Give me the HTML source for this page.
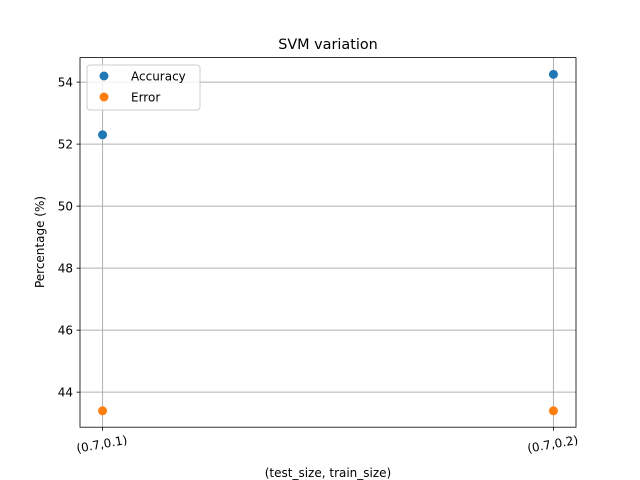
<!DOCTYPE html>
<html><head><meta charset="utf-8"><style>
body{margin:0;background:#fff}
svg{display:block;font-family:"DejaVu Sans","Liberation Sans",sans-serif}
</style></head><body>
<svg id="chart" width="640" height="480">
<rect width="640" height="480" fill="#fff"/>
<g id="grid"></g><g id="marks"></g><g id="axes"></g>
<text x="328" y="49" text-anchor="middle" font-size="14.4">SVM variation</text>
<text x="328" y="477" text-anchor="middle" font-size="12">(test_size, train_size)</text>
<text transform="translate(44,242) rotate(-90)" text-anchor="middle" font-size="12">Percentage (%)</text>
<g>
<rect x="87" y="65" width="113" height="45" rx="3" fill="#fff" fill-opacity="0.8" stroke="#ccc"/>
<circle cx="104" cy="76" r="4.5" fill="#1f77b4"/>
<text x="131" y="80.5" font-size="12">Accuracy</text>
<circle cx="104" cy="97" r="4.5" fill="#ff7f0e"/>
<text x="131" y="101.5" font-size="12">Error</text>
</g>
</svg>
<script>
const categories=["(0.7,0.1)","(0.7,0.2)"];
const accuracy=[52.3,54.25];
const errorVals=[43.4,43.4];
const yTicks=[44,46,48,50,52,54];
const L=80,R=576,T=57.6,B=427.2,xmin=-0.05,xmax=1.05,ymin=42.87,ymax=54.79;
const xs=i=>L+(i-xmin)/(xmax-xmin)*(R-L);
const ys=v=>B-(v-ymin)/(ymax-ymin)*(B-T);
const NS="http://www.w3.org/2000/svg";
function mk(tag,attrs,parent){const e=document.createElementNS(NS,tag);for(const k in attrs)e.setAttribute(k,attrs[k]);parent.appendChild(e);return e;}
const grid=document.getElementById('grid'),marks=document.getElementById('marks'),axes=document.getElementById('axes');
yTicks.forEach(t=>{const y=ys(t);
 let g=mk('line',{x1:L,x2:R,y1:y,y2:y,stroke:'#b0b0b0','stroke-width':1},grid);
 
 
 mk('line',{x1:L-3.5,x2:L,y1:y,y2:y,stroke:'#000','stroke-width':0.8},axes);
 let tx=mk('text',{x:L-7,y:y+4.5,'text-anchor':'end','font-size':12},axes);tx.textContent=t;
 
 
});
categories.forEach((c,i)=>{const x=xs(i);
 let g=mk('line',{x1:x,x2:x,y1:T,y2:B,stroke:'#b0b0b0','stroke-width':1},grid);
 
 
 mk('line',{x1:x,x2:x,y1:B,y2:B+3.5,stroke:'#000','stroke-width':0.8},axes);
 let tx=mk('text',{transform:`translate(${x},${B+21}) rotate(-10)`,'text-anchor':'middle','font-size':12},axes);tx.textContent=c;
 
 
 let p=mk('circle',{cx:x,cy:ys(accuracy[i]),r:4.5,fill:'#1f77b4'},marks);
 
 
 let q=mk('circle',{cx:x,cy:ys(errorVals[i]),r:4.5,fill:'#ff7f0e'},marks);
 
 
});
let fr=mk('rect',{x:L,y:T,width:R-L,height:B-T,fill:'none',stroke:'#000','stroke-width':0.8},axes);


</script>
</body></html>
